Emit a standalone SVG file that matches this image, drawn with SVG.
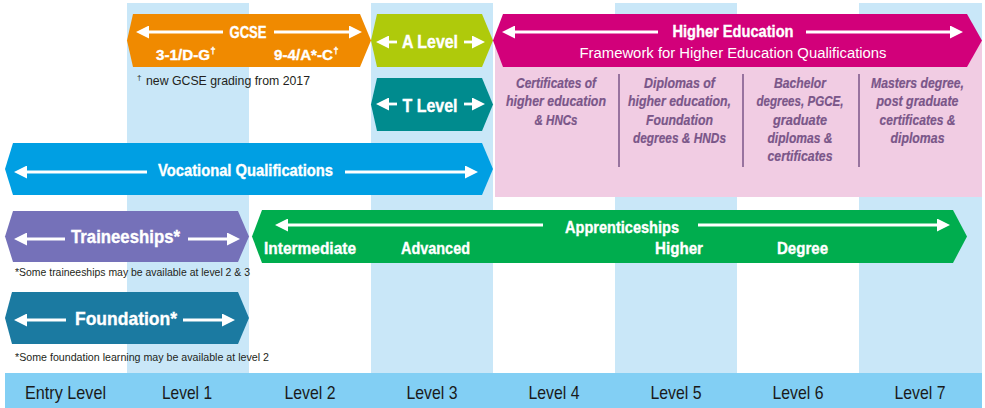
<svg xmlns="http://www.w3.org/2000/svg" width="985" height="408" viewBox="0 0 985 408">
<style>
.col{fill:#c9e7f8}
.w{fill:#ffffff;stroke:#ffffff;stroke-width:0.35;font-family:"Liberation Sans",Arial,sans-serif;font-weight:bold;text-anchor:middle}
.wr{fill:#ffffff;font-family:"Liberation Sans",Arial,sans-serif;text-anchor:middle}
.he{fill:#7a5689;stroke:#7a5689;stroke-width:0.2;font-family:"Liberation Sans",Arial,sans-serif;font-weight:bold;font-style:italic;font-size:14px;text-anchor:middle}
.fn{fill:#231f20;font-family:"Liberation Sans",Arial,sans-serif}
.lv{fill:#1a1a1a;font-family:"Liberation Sans",Arial,sans-serif;font-size:18.5px;text-anchor:middle}
.arr{stroke:#ffffff;stroke-width:2.8;fill:none;marker-end:url(#ah)}
.div{stroke:#7a5689;stroke-width:1.5}
</style>
<defs>
<marker id="ah" markerUnits="userSpaceOnUse" markerWidth="13" markerHeight="13" refX="1" refY="6.5" orient="auto">
<path d="M0,0 L13,6.5 L0,13 z" fill="#ffffff"/>
</marker>
</defs>

<g id="background">
<rect class="col" x="127" y="3" width="122" height="370"/>
<rect class="col" x="371" y="3" width="122" height="370"/>
<rect class="col" x="615" y="3" width="122" height="370"/>
<rect class="col" x="859" y="3" width="123" height="370"/>
</g>

<g id="gcse">
<polygon points="127,40.5 133,14 360,14 371,40.5 360,67 133,67" fill="#f08a00"/>
<text class="w" x="248" y="37.5" font-size="16.5" textLength="37" lengthAdjust="spacingAndGlyphs">GCSE</text>
<text class="w" x="183" y="60" font-size="15.5" textLength="54" lengthAdjust="spacingAndGlyphs">3-1/D-G</text>
<text class="w" x="213" y="54" font-size="9">†</text>
<text class="w" x="303.5" y="60" font-size="15.5" textLength="59" lengthAdjust="spacingAndGlyphs">9-4/A*-C</text>
<text class="w" x="336" y="54" font-size="9">†</text>
<text class="fn" x="137" y="80" font-size="8">†</text>
<text class="fn" x="146" y="85" font-size="13" textLength="164" lengthAdjust="spacingAndGlyphs">new GCSE grading from 2017</text>
</g>

<g id="alevel">
<polygon points="371,40.5 377,14 482,14 493,40.5 482,67 377,67" fill="#afca0b"/>
<text class="w" x="430" y="48" font-size="17.5" textLength="56" lengthAdjust="spacingAndGlyphs">A Level</text>
</g>

<g id="tlevel">
<polygon points="371,104.5 377,78 482,78 493,104.5 482,131 377,131" fill="#008b8e"/>
<text class="w" x="430" y="112" font-size="17.5" textLength="55" lengthAdjust="spacingAndGlyphs">T Level</text>
</g>

<g id="higher-education">
<rect x="495" y="40" width="487" height="157" fill="#f1cce3"/>
<polygon points="493,40.5 503,14 967,14 982,40.5 967,67 503,67" fill="#d2007a"/>
<text class="w" x="733" y="37" font-size="16.5" textLength="121" lengthAdjust="spacingAndGlyphs">Higher Education</text>
<text class="wr" x="733" y="58" font-size="15.5" textLength="307" lengthAdjust="spacingAndGlyphs">Framework for Higher Education Qualifications</text>
<line class="div" x1="619" y1="74" x2="619" y2="167"/>
<line class="div" x1="743" y1="74" x2="743" y2="167"/>
<line class="div" x1="859" y1="74" x2="859" y2="167"/>
<text class="he" x="556" y="88" textLength="80" lengthAdjust="spacingAndGlyphs">Certificates of</text>
<text class="he" x="556" y="106.3" textLength="100" lengthAdjust="spacingAndGlyphs">higher education</text>
<text class="he" x="556" y="124.6" textLength="43" lengthAdjust="spacingAndGlyphs">&amp; HNCs</text>
<text class="he" x="679.5" y="88" textLength="71" lengthAdjust="spacingAndGlyphs">Diplomas of</text>
<text class="he" x="679.5" y="106.3" textLength="103" lengthAdjust="spacingAndGlyphs">higher education,</text>
<text class="he" x="679.5" y="124.6" textLength="67" lengthAdjust="spacingAndGlyphs">Foundation</text>
<text class="he" x="679.5" y="143" textLength="93" lengthAdjust="spacingAndGlyphs">degrees &amp; HNDs</text>
<text class="he" x="800" y="88" textLength="52" lengthAdjust="spacingAndGlyphs">Bachelor</text>
<text class="he" x="800" y="106.3" textLength="87" lengthAdjust="spacingAndGlyphs">degrees, PGCE,</text>
<text class="he" x="800" y="124.6" textLength="54" lengthAdjust="spacingAndGlyphs">graduate</text>
<text class="he" x="800" y="143" textLength="65" lengthAdjust="spacingAndGlyphs">diplomas &amp;</text>
<text class="he" x="800" y="161.3" textLength="65" lengthAdjust="spacingAndGlyphs">certificates</text>
<text class="he" x="917.5" y="88" textLength="93" lengthAdjust="spacingAndGlyphs">Masters degree,</text>
<text class="he" x="917.5" y="106.3" textLength="82" lengthAdjust="spacingAndGlyphs">post graduate</text>
<text class="he" x="917.5" y="124.6" textLength="76" lengthAdjust="spacingAndGlyphs">certificates &amp;</text>
<text class="he" x="917.5" y="143" textLength="54" lengthAdjust="spacingAndGlyphs">diplomas</text>
</g>

<g id="vocational">
<polygon points="5,169 13,143 482,143 493,169 482,195 13,195" fill="#009fe3"/>
<text class="w" x="245.5" y="176" font-size="16.5" textLength="175" lengthAdjust="spacingAndGlyphs">Vocational Qualifications</text>
</g>

<g id="traineeships">
<polygon points="5,236.5 13,211 238,211 249,236.5 238,262 13,262" fill="#7571b9"/>
<text class="w" x="125.5" y="243" font-size="18" textLength="109" lengthAdjust="spacingAndGlyphs">Traineeships*</text>
<text class="fn" x="15" y="276" font-size="10.5" textLength="235" lengthAdjust="spacingAndGlyphs">*Some traineeships may be available at level 2 &amp; 3</text>
</g>

<g id="apprenticeships">
<polygon points="252,236.5 262,210 953,210 967,236.5 953,263 262,263" fill="#00ad4e"/>
<text class="w" x="622" y="233" font-size="16.5" textLength="114" lengthAdjust="spacingAndGlyphs">Apprenticeships</text>
<text class="w" x="310" y="254" font-size="16.5" textLength="92" lengthAdjust="spacingAndGlyphs">Intermediate</text>
<text class="w" x="435.5" y="254" font-size="16.5" textLength="69" lengthAdjust="spacingAndGlyphs">Advanced</text>
<text class="w" x="679" y="254" font-size="16.5" textLength="48" lengthAdjust="spacingAndGlyphs">Higher</text>
<text class="w" x="802.5" y="254" font-size="16.5" textLength="51" lengthAdjust="spacingAndGlyphs">Degree</text>
</g>

<g id="foundation">
<polygon points="5,318 12,292 238,292 249,318 238,344 12,344" fill="#1b7aa1"/>
<text class="w" x="126" y="325" font-size="18.5" textLength="102" lengthAdjust="spacingAndGlyphs">Foundation*</text>
<text class="fn" x="15" y="361" font-size="10.5" textLength="254" lengthAdjust="spacingAndGlyphs">*Some foundation learning may be available at level 2</text>
</g>

<g id="levels">
<rect x="5" y="373" width="977" height="35" fill="#82cff4"/>
<text class="lv" x="65.5" y="399" textLength="81" lengthAdjust="spacingAndGlyphs">Entry Level</text>
<text class="lv" x="187" y="399" textLength="50" lengthAdjust="spacingAndGlyphs">Level 1</text>
<text class="lv" x="310" y="399" textLength="51" lengthAdjust="spacingAndGlyphs">Level 2</text>
<text class="lv" x="432" y="399" textLength="51" lengthAdjust="spacingAndGlyphs">Level 3</text>
<text class="lv" x="554" y="399" textLength="51" lengthAdjust="spacingAndGlyphs">Level 4</text>
<text class="lv" x="676" y="399" textLength="51" lengthAdjust="spacingAndGlyphs">Level 5</text>
<text class="lv" x="798" y="399" textLength="51" lengthAdjust="spacingAndGlyphs">Level 6</text>
<text class="lv" x="920" y="399" textLength="51" lengthAdjust="spacingAndGlyphs">Level 7</text>
</g>

<g id="connectors">
<line class="arr" x1="223" y1="32" x2="148" y2="32"/>
<line class="arr" x1="274" y1="32" x2="350" y2="32"/>
<line class="arr" x1="397" y1="42" x2="388" y2="42"/>
<line class="arr" x1="464" y1="42" x2="473" y2="42"/>
<line class="arr" x1="397" y1="104" x2="388" y2="104"/>
<line class="arr" x1="464" y1="104" x2="473" y2="104"/>
<line class="arr" x1="658" y1="32" x2="514" y2="32"/>
<line class="arr" x1="806" y1="32" x2="951" y2="32"/>
<line class="arr" x1="147" y1="172" x2="26" y2="172"/>
<line class="arr" x1="345" y1="172" x2="466" y2="172"/>
<line class="arr" x1="65" y1="239" x2="26" y2="239"/>
<line class="arr" x1="188" y1="239" x2="228" y2="239"/>
<line class="arr" x1="543" y1="225" x2="287" y2="225"/>
<line class="arr" x1="698" y1="225" x2="938" y2="225"/>
<line class="arr" x1="66" y1="320" x2="26" y2="320"/>
<line class="arr" x1="183" y1="320" x2="223" y2="320"/>
</g>
</svg>
